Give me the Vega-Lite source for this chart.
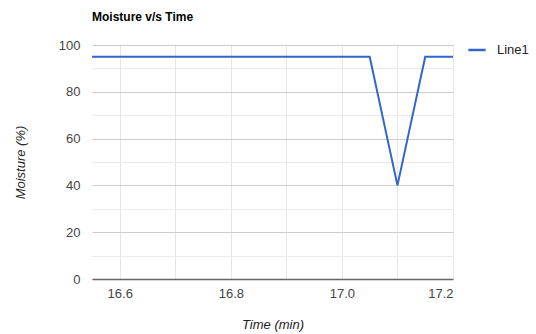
{
  "$schema": "https://vega.github.io/schema/vega-lite/v6.json",
  "width": 361,
  "height": 234,
  "autosize": {"type": "none"},
  "padding": {"left": 92, "top": 45, "right": 83, "bottom": 55},
  "background": "white",
  "title": {
    "text": "Moisture v/s Time",
    "anchor": "start",
    "frame": "group",
    "font": "Liberation Sans",
    "fontSize": 12,
    "fontWeight": "bold",
    "color": "#000000",
    "offset": 15
  },
  "data": {
    "values": [
      {"time": 16.55, "moisture": 95, "series": "Line1"},
      {"time": 16.6, "moisture": 95, "series": "Line1"},
      {"time": 16.65, "moisture": 95, "series": "Line1"},
      {"time": 16.7, "moisture": 95, "series": "Line1"},
      {"time": 16.75, "moisture": 95, "series": "Line1"},
      {"time": 16.8, "moisture": 95, "series": "Line1"},
      {"time": 16.85, "moisture": 95, "series": "Line1"},
      {"time": 16.9, "moisture": 95, "series": "Line1"},
      {"time": 16.95, "moisture": 95, "series": "Line1"},
      {"time": 17.0, "moisture": 95, "series": "Line1"},
      {"time": 17.05, "moisture": 95, "series": "Line1"},
      {"time": 17.1, "moisture": 40, "series": "Line1"},
      {"time": 17.15, "moisture": 95, "series": "Line1"},
      {"time": 17.2, "moisture": 95, "series": "Line1"}
    ]
  },
  "mark": {"type": "line", "strokeWidth": 2, "clip": true},
  "encoding": {
    "x": {
      "field": "time",
      "type": "quantitative",
      "scale": {"domain": [16.55, 17.2], "nice": false, "zero": false},
      "axis": {
        "title": "Time (min)",
        "values": [16.6, 16.7, 16.8, 16.9, 17.0, 17.1, 17.2],
        "labelExpr": "round(datum.value*10) % 2 == 0 ? format(datum.value, '.1f') : ''",
        "ticks": false,
        "domain": true,
        "domainColor": "#666666",
        "domainWidth": 1.5,
        "gridColor": "#e6e6e6",
        "labelFont": "Liberation Sans",
        "labelFontSize": 13,
        "labelColor": "#444444",
        "labelPadding": 8,
        "titleFont": "Liberation Sans",
        "titleFontSize": 13,
        "titleFontStyle": "italic",
        "titleFontWeight": "normal",
        "titleColor": "#222222",
        "titlePadding": 18
      }
    },
    "y": {
      "field": "moisture",
      "type": "quantitative",
      "scale": {"domain": [0, 100], "nice": false},
      "axis": {
        "title": "Moisture (%)",
        "values": [0, 10, 20, 30, 40, 50, 60, 70, 80, 90, 100],
        "labelExpr": "datum.value % 20 == 0 ? format(datum.value, 'd') : ''",
        "ticks": false,
        "domain": false,
        "gridColor": {"condition": {"test": "datum.value % 20 == 0", "value": "#cccccc"}, "value": "#ebebeb"},
        "labelFont": "Liberation Sans",
        "labelFontSize": 13,
        "labelColor": "#444444",
        "labelPadding": 12,
        "titleFont": "Liberation Sans",
        "titleFontSize": 13,
        "titleFontStyle": "italic",
        "titleFontWeight": "normal",
        "titleColor": "#222222",
        "titlePadding": 31
      }
    },
    "color": {
      "field": "series",
      "type": "nominal",
      "scale": {"range": ["#3366cc"]},
      "legend": {
        "title": null,
        "orient": "none",
        "legendX": 375,
        "legendY": -5,
        "symbolType": "stroke",
        "symbolSize": 300,
        "symbolStrokeWidth": 2.5,
        "labelFont": "Liberation Sans",
        "labelFontSize": 13,
        "labelColor": "#222222",
        "labelOffset": 10
      }
    }
  },
  "config": {"view": {"stroke": null}}
}
